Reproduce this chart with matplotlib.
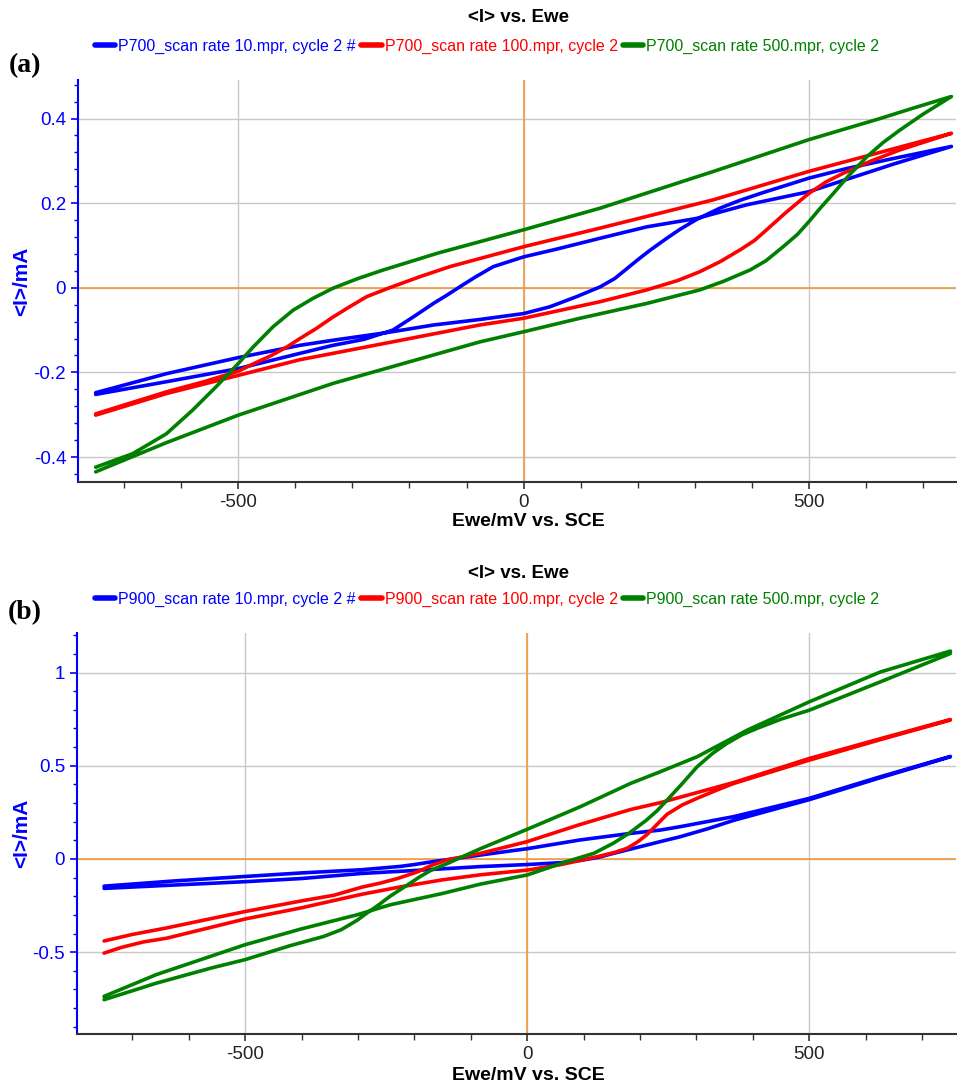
import numpy as np
import matplotlib
matplotlib.use("Agg")
import matplotlib.pyplot as plt
from matplotlib.ticker import MultipleLocator, FuncFormatter

plt.rcParams['font.family'] = ['Liberation Sans', 'DejaVu Sans']
plt.rcParams['axes.unicode_minus'] = False

# ---- panel (a): P700, potential (mV) / current (mA) ----
a_blue_fwd_x = [-750, -626, -500, -392, -334, -240, -158, -77, 0, 46, 93, 134, 160, 181, 200, 222, 250, 274, 304, 344, 380, 420, 500, 567, 650, 750]
a_blue_fwd_y = [-0.248, -0.203, -0.165, -0.136, -0.124, -0.106, -0.088, -0.075, -0.061, -0.045, -0.021, 0.002, 0.022, 0.045, 0.066, 0.089, 0.116, 0.138, 0.162, 0.188, 0.207, 0.225, 0.259, 0.282, 0.306, 0.334]
a_blue_rev_x = [750, 650, 500, 391, 304, 216, 134, 60, 0, -53, -85, -112, -135, -158, -190, -229, -280, -334, -392, -500, -626, -750]
a_blue_rev_y = [0.334, 0.293, 0.227, 0.196, 0.164, 0.144, 0.117, 0.092, 0.073, 0.050, 0.025, 0.002, -0.018, -0.037, -0.066, -0.100, -0.122, -0.136, -0.155, -0.191, -0.222, -0.252]

a_red_fwd_x = [-750, -626, -500, -392, -334, -77, 0, 134, 216, 270, 309, 345, 380, 405, 426, 460, 500, 530, 561, 610, 660, 750]
a_red_fwd_y = [-0.301, -0.250, -0.207, -0.170, -0.155, -0.088, -0.072, -0.033, -0.005, 0.017, 0.038, 0.062, 0.090, 0.112, 0.137, 0.178, 0.223, 0.250, 0.271, 0.300, 0.326, 0.365]
a_red_rev_x = [750, 500, 333, 134, 0, -129, -180, -235, -275, -305, -335, -363, -392, -415, -445, -474, -500, -560, -626, -750]
a_red_rev_y = [0.365, 0.275, 0.208, 0.141, 0.097, 0.050, 0.027, 0.000, -0.021, -0.045, -0.070, -0.096, -0.120, -0.140, -0.162, -0.180, -0.197, -0.222, -0.246, -0.298]

a_green_fwd_x = [-750, -626, -500, -334, -77, 0, 99, 216, 309, 350, 397, 425, 455, 480, 500, 520, 543, 570, 602, 630, 660, 700, 750]
a_green_fwd_y = [-0.435, -0.366, -0.301, -0.226, -0.128, -0.104, -0.072, -0.037, -0.005, 0.015, 0.042, 0.064, 0.097, 0.126, 0.156, 0.188, 0.223, 0.265, 0.310, 0.343, 0.373, 0.410, 0.452]
a_green_rev_x = [750, 684, 625, 500, 333, 134, 0, -150, -246, -290, -334, -369, -404, -439, -474, -500, -539, -580, -626, -685, -750]
a_green_rev_y = [0.452, 0.425, 0.400, 0.350, 0.275, 0.188, 0.137, 0.082, 0.042, 0.022, -0.001, -0.025, -0.053, -0.092, -0.140, -0.179, -0.234, -0.289, -0.345, -0.392, -0.424]

# ---- panel (b): P900 ----
b_blue_fwd_x = [-750, -626, -500, -400, -294, -200, -83, 0, 60, 94, 125, 153, 190, 236, 271, 320, 366, 430, 500, 626, 750]
b_blue_fwd_y = [-0.158, -0.140, -0.122, -0.105, -0.078, -0.062, -0.041, -0.030, -0.020, -0.008, 0.008, 0.030, 0.058, 0.093, 0.119, 0.162, 0.207, 0.260, 0.318, 0.436, 0.548]
b_blue_rev_x = [750, 626, 500, 366, 271, 236, 183, 94, 0, -83, -125, -166, -200, -225, -294, -400, -500, -626, -750]
b_blue_rev_y = [0.550, 0.441, 0.325, 0.227, 0.173, 0.155, 0.137, 0.102, 0.055, 0.021, 0.003, -0.014, -0.030, -0.040, -0.058, -0.075, -0.094, -0.118, -0.146]

b_red_fwd_x = [-750, -720, -680, -639, -500, -400, -294, -225, -150, -83, 0, 60, 124, 155, 177, 195, 212, 230, 248, 275, 301, 335, 366, 500, 626, 750]
b_red_fwd_y = [-0.505, -0.475, -0.445, -0.425, -0.322, -0.262, -0.190, -0.150, -0.112, -0.085, -0.060, -0.030, 0.012, 0.035, 0.057, 0.090, 0.130, 0.185, 0.240, 0.290, 0.325, 0.368, 0.405, 0.530, 0.640, 0.745]
b_red_rev_x = [750, 626, 500, 366, 236, 183, 94, 0, -83, -142, -170, -195, -230, -261, -294, -343, -400, -500, -639, -700, -750]
b_red_rev_y = [0.748, 0.645, 0.539, 0.410, 0.302, 0.265, 0.185, 0.093, 0.030, -0.005, -0.035, -0.070, -0.105, -0.130, -0.152, -0.195, -0.225, -0.282, -0.370, -0.405, -0.440]

b_green_fwd_x = [-750, -657, -500, -400, -302, -243, -150, -83, 0, 70, 118, 153, 180, 210, 230, 248, 275, 301, 328, 354, 380, 407, 450, 500, 626, 750]
b_green_fwd_y = [-0.737, -0.620, -0.460, -0.375, -0.300, -0.246, -0.185, -0.135, -0.086, -0.014, 0.030, 0.085, 0.137, 0.205, 0.258, 0.316, 0.405, 0.494, 0.565, 0.620, 0.665, 0.700, 0.750, 0.798, 0.950, 1.102]
b_green_rev_x = [750, 626, 500, 390, 301, 236, 183, 94, 0, -83, -142, -170, -190, -215, -243, -265, -284, -302, -330, -361, -420, -500, -560, -657, -750]
b_green_rev_y = [1.115, 1.003, 0.843, 0.691, 0.548, 0.468, 0.405, 0.280, 0.159, 0.055, -0.025, -0.060, -0.095, -0.145, -0.200, -0.250, -0.290, -0.330, -0.380, -0.416, -0.465, -0.540, -0.585, -0.666, -0.755]

scan_rates = ["10.mpr, cycle 2 #", "100.mpr, cycle 2", "500.mpr, cycle 2"]
colors = ["#0000ff", "#ff0000", "#008000"]

W, H = 957, 1088
fig = plt.figure(figsize=(W / 100, H / 100), dpi=100)


def fx(px):
    return px / W


def fy(py):
    return 1 - py / H


def make_panel(box, curves, sample, xlim, ylim, ymajor, yminor, title_y, leg_y, tag, tag_y, xlab_y):
    left, top, right, bottom = box
    ax = fig.add_axes([fx(left), fy(bottom), fx(right) - fx(left), fy(top) - fy(bottom)])
    ax.grid(True, which='major', color='#c8c8c8', lw=1.0)
    ax.axhline(0, color='#f39a3c', lw=1.2, zorder=1.5)
    ax.axvline(0, color='#f39a3c', lw=1.2, zorder=1.5)
    handles = []
    for (fxs, fys, rxs, rys), c in zip(curves, colors):
        xs = list(fxs) + list(rxs)
        ys = list(fys) + list(rys)
        ln, = ax.plot(xs, ys, color=c, lw=2.6, solid_joinstyle='round', solid_capstyle='round', zorder=3)
        handles.append(ln)
    ax.set_xlim(*xlim)
    ax.set_ylim(*ylim)
    ax.set_axisbelow(True)
    ax.xaxis.set_major_locator(MultipleLocator(500))
    ax.xaxis.set_minor_locator(MultipleLocator(100))
    ax.yaxis.set_major_locator(MultipleLocator(ymajor))
    ax.yaxis.set_minor_locator(MultipleLocator(yminor))
    ax.yaxis.set_major_formatter(FuncFormatter(lambda v, p: '%g' % round(v, 3)))
    for s in ['top', 'right']:
        ax.spines[s].set_visible(False)
    ax.spines['left'].set_color('#0000ff')
    ax.spines['left'].set_linewidth(1.5)
    ax.spines['bottom'].set_color('#333333')
    ax.spines['bottom'].set_linewidth(1.5)
    ax.tick_params(axis='y', which='both', colors='#0000ff', labelsize=13.5, direction='out')
    ax.tick_params(axis='y', which='major', length=5, width=1.2)
    ax.tick_params(axis='y', which='minor', length=3, width=1.0)
    ax.tick_params(axis='x', which='both', colors='#333333', labelcolor='#222222', labelsize=13.5, direction='out')
    ax.tick_params(axis='x', which='major', length=5, width=1.2)
    ax.tick_params(axis='x', which='minor', length=4, width=1.0)

    fig.text(fx(518), fy(title_y), '<I> vs. Ewe', ha='center', va='center', fontsize=13.5, fontweight='bold')
    labels = [sample + '_scan rate ' + r for r in scan_rates]
    leg = fig.legend(handles, labels, loc='center', bbox_to_anchor=(fx(487), fy(leg_y)), ncol=3,
                     frameon=False, fontsize=11.5, handlelength=1.3, handletextpad=0.2,
                     columnspacing=0.3, borderpad=0)
    for t, c in zip(leg.get_texts(), colors):
        t.set_color(c)
    for h in leg.legend_handles:
        h.set_linewidth(4)
    fig.text(fx(25), fy(tag_y), tag, ha='center', va='center', fontsize=20, fontweight='bold',
             family='Liberation Serif')
    fig.text(fx(22), fy((top + bottom) / 2), '<I>/mA', rotation=90, ha='center', va='center',
             fontsize=15, fontweight='bold', color='#0000ff')
    fig.text(fx(528), fy(xlab_y), 'Ewe/mV vs. SCE', ha='center', va='center', fontsize=14, fontweight='bold')
    return ax


curves_a = [(a_blue_fwd_x, a_blue_fwd_y, a_blue_rev_x, a_blue_rev_y),
            (a_red_fwd_x, a_red_fwd_y, a_red_rev_x, a_red_rev_y),
            (a_green_fwd_x, a_green_fwd_y, a_green_rev_x, a_green_rev_y)]
curves_b = [(b_blue_fwd_x, b_blue_fwd_y, b_blue_rev_x, b_blue_rev_y),
            (b_red_fwd_x, b_red_fwd_y, b_red_rev_x, b_red_rev_y),
            (b_green_fwd_x, b_green_fwd_y, b_green_rev_x, b_green_rev_y)]

make_panel((78, 80, 956, 482), curves_a, 'P700', (-781, 758), (-0.459, 0.491), 0.2, 0.04,
           18, 46, '(a)', 66, 521)
make_panel((77, 633, 956, 1034), curves_b, 'P900', (-798, 760), (-0.939, 1.212), 0.5, 0.1,
           574, 599, '(b)', 613, 1075)

fig.savefig('out.png', dpi=100)
